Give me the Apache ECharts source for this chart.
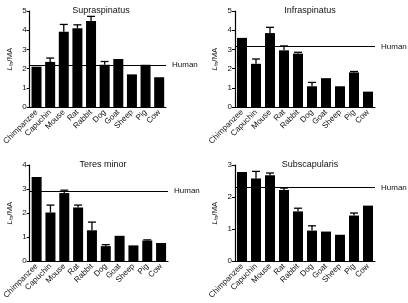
<!DOCTYPE html>
<html>
<head>
<meta charset="utf-8">
<script src="https://cdn.jsdelivr.net/npm/echarts@6/dist/echarts.min.js"></script>
<style>
  html, body { margin: 0; padding: 0; background: #fff; }
  #chart { width: 408px; height: 303px; }
</style>
</head>
<body>
<div id="chart"></div>
<script>
const animals = ['Chimpanzee', 'Capuchin', 'Mouse', 'Rat', 'Rabbit', 'Dog', 'Goat', 'Sheep', 'Pig', 'Cow']

// mean values and upper error bar ends (null = no error bar)
const supraMean = [2.1, 2.35, 3.92, 4.1, 4.48, 2.2, 2.5, 1.7, 2.2, 1.55]
const supraErr = [null, 2.55, 4.3, 4.28, 4.72, 2.37, null, null, null, null]
const supraHuman = 2.2

const infraMean = [3.6, 2.25, 3.85, 2.95, 2.78, 1.08, 1.5, 1.08, 1.8, 0.8]
const infraErr = [null, 2.5, 4.15, 3.18, 2.85, 1.28, null, null, 1.85, null]
const infraHuman = 3.15

const teresMean = [3.5, 2.02, 2.83, 2.23, 1.28, 0.62, 1.05, 0.65, 0.85, 0.75]
const teresErr = [null, 2.33, 2.95, 2.33, 1.62, 0.68, null, null, 0.88, null]
const teresHuman = 2.92

const subscapMean = [2.78, 2.58, 2.68, 2.22, 1.55, 0.95, 0.92, 0.82, 1.42, 1.73]
const subscapErr = [null, 2.8, 2.75, 2.28, 1.65, 1.1, null, null, 1.5, null]
const subscapHuman = 2.3

const panels = [
  {title: 'Supraspinatus', mean: supraMean, err: supraErr, human: supraHuman, max: 5, left: 26, top: 11},
  {title: 'Infraspinatus', mean: infraMean, err: infraErr, human: infraHuman, max: 5, left: 235, top: 11},
  {title: 'Teres minor', mean: teresMean, err: teresErr, human: teresHuman, max: 4, left: 28, top: 165},
  {title: 'Subscapularis', mean: subscapMean, err: subscapErr, human: subscapHuman, max: 3, left: 235, top: 165},
]

const font = 'Liberation Sans, Arial, sans-serif'
const chart = echarts.init(document.getElementById('chart'))

const grid = [], xAxis = [], yAxis = [], series = [], title = []

panels.forEach((p, i) => {
  grid.push({left: p.left, top: p.top, width: 140, height: 96})
  title.push({
    text: p.title,
    left: p.left + 70, top: p.top - 10, textAlign: 'center',
    textStyle: {fontSize: 9, fontWeight: 'normal', color: '#111', fontFamily: font}
  })
  xAxis.push({
    type: 'category', gridIndex: i, data: animals,
    axisLine: {lineStyle: {color: '#000', width: 1.2}},
    axisTick: {alignWithLabel: true, length: 3, lineStyle: {color: '#000'}},
    axisLabel: {rotate: 45, fontSize: 8, color: '#111', margin: 4, fontFamily: font, interval: 0}
  })
  yAxis.push({
    type: 'value', gridIndex: i, min: 0, max: p.max, interval: 1,
    splitLine: {show: false},
    axisLine: {show: true, lineStyle: {color: '#000', width: 1.2}},
    axisTick: {show: true, length: 3, lineStyle: {color: '#000'}},
    axisLabel: {fontSize: 8, color: '#111', margin: 3, fontFamily: font},
    name: '{i|L}{s|fn}{n|/MA}',
    nameLocation: 'middle', nameGap: 16,
    nameTextStyle: {
      rich: {
        i: {fontSize: 8, fontStyle: 'italic', fontFamily: font, color: '#111'},
        s: {fontSize: 5, fontFamily: font, color: '#111', verticalAlign: 'bottom', padding: [3, 0, 0, 0]},
        n: {fontSize: 8, fontFamily: font, color: '#111'}
      }
    }
  })
  series.push({
    type: 'bar', xAxisIndex: i, yAxisIndex: i,
    data: p.mean, barWidth: 10,
    itemStyle: {color: '#000'},
    markLine: {
      silent: true, symbol: 'none',
      lineStyle: {color: '#000', type: 'solid', width: 1.2},
      label: {position: 'end', formatter: 'Human', fontSize: 8, color: '#111', fontFamily: font, distance: 6},
      data: [{yAxis: p.human}]
    }
  })
  series.push({
    type: 'custom', xAxisIndex: i, yAxisIndex: i, z: 3,
    data: p.err.map((e, j) => [j, p.mean[j], e]).filter(d => d[2] != null),
    renderItem: (params, api) => {
      const base = api.coord([api.value(0), api.value(1)])
      const top = api.coord([api.value(0), api.value(2)])
      const style = {stroke: '#000', lineWidth: 1.3}
      return {
        type: 'group',
        children: [
          {type: 'line', shape: {x1: base[0], y1: base[1], x2: top[0], y2: top[1]}, style},
          {type: 'line', shape: {x1: top[0] - 4, y1: top[1], x2: top[0] + 4, y2: top[1]}, style}
        ]
      }
    }
  })
})

chart.setOption({animation: false, title, grid, xAxis, yAxis, series})
</script>
</body>
</html>
